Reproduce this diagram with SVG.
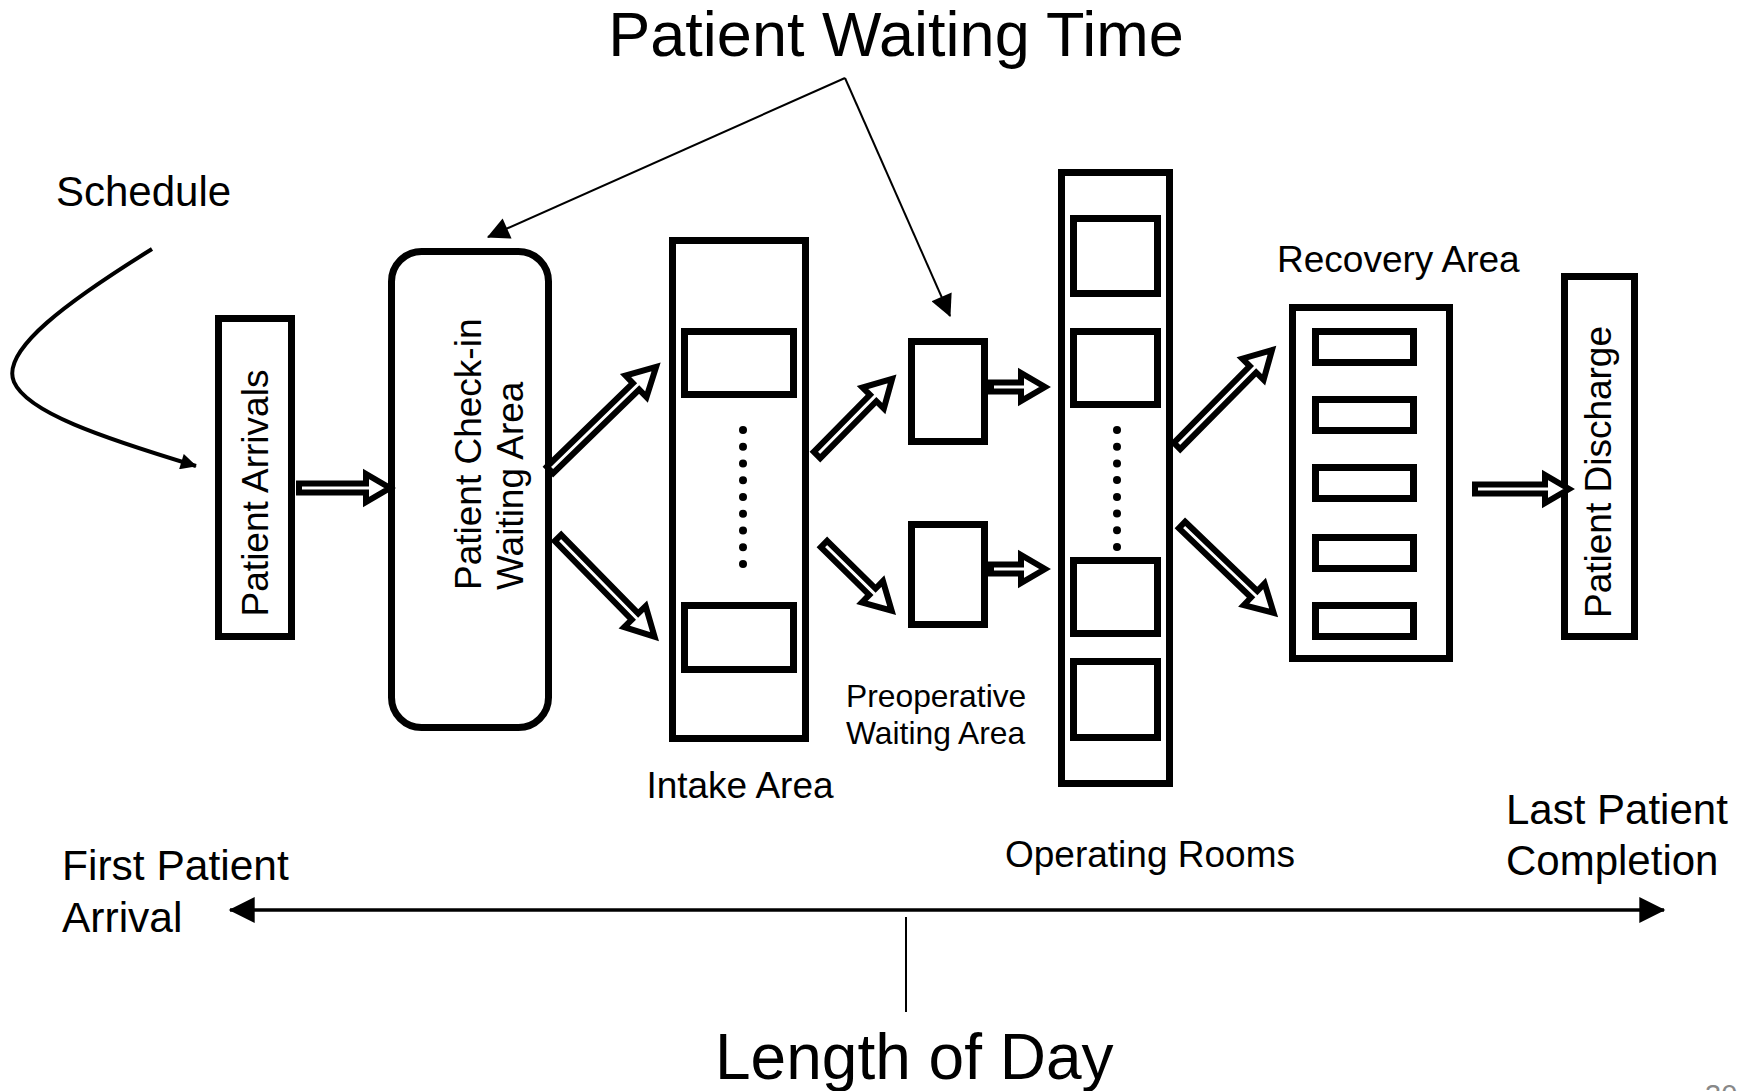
<svg xmlns="http://www.w3.org/2000/svg" width="1750" height="1091" viewBox="0 0 1750 1091">
<defs>
<style>
text{font-family:"Liberation Sans",Arial,sans-serif;fill:#000}
.box{fill:#fff;stroke:#000;stroke-width:7}
.inner{fill:none;stroke:#000;stroke-width:7}
.barrow{fill:#fff;stroke:#000;stroke-width:6;stroke-linejoin:miter;stroke-miterlimit:6}
.ptr{fill:none;stroke:#000;stroke-width:2}
.dot{fill:#000}
</style>
<marker id="ahBig" viewBox="0 0 10 10" refX="9.5" refY="5" markerWidth="24" markerHeight="22" markerUnits="userSpaceOnUse" orient="auto">
<path d="M0,0 L10,5 L0,10 z" fill="#000"/>
</marker>
<marker id="ahCurve" viewBox="0 0 10 10" refX="9.5" refY="5" markerWidth="20" markerHeight="16" markerUnits="userSpaceOnUse" orient="auto">
<path d="M0,0 L10,5 L0,10 z" fill="#000"/>
</marker>
<marker id="ahDay" viewBox="0 0 10 10" refX="9.5" refY="5" markerWidth="27" markerHeight="26" markerUnits="userSpaceOnUse" orient="auto-start-reverse">
<path d="M0,0 L10,5 L0,10 z" fill="#000"/>
</marker>
</defs>

<g id="title">
<text x="896" y="56" font-size="63" text-anchor="middle">Patient Waiting Time</text>
</g>

<g id="schedule">
<text x="56" y="206" font-size="42">Schedule</text>
</g>

<g id="patient-arrivals">
<rect class="box" x="218.5" y="318.5" width="73" height="318"/>
<text transform="translate(268,493) rotate(-90)" font-size="37" text-anchor="middle">Patient Arrivals</text>
</g>

<g id="checkin">
<rect class="box" x="391.5" y="251.5" width="157" height="476" rx="30" ry="30"/>
<text transform="translate(481,590) rotate(-90)" font-size="37">Patient Check-in</text>
<text transform="translate(523,590) rotate(-90)" font-size="37">Waiting Area</text>
</g>

<g id="intake">
<rect class="box" x="672.5" y="240.5" width="133" height="498"/>
<rect class="inner" x="684.5" y="331.5" width="109" height="63"/>
<rect class="inner" x="684.5" y="605.5" width="109" height="64"/>
<g class="dot">
<circle cx="743" cy="430" r="4"/><circle cx="743" cy="446.75" r="4"/><circle cx="743" cy="463.5" r="4"/>
<circle cx="743" cy="480.25" r="4"/><circle cx="743" cy="497" r="4"/><circle cx="743" cy="513.75" r="4"/>
<circle cx="743" cy="530.5" r="4"/><circle cx="743" cy="547.25" r="4"/><circle cx="743" cy="564" r="4"/>
</g>
<text x="740" y="798" font-size="37" text-anchor="middle">Intake Area</text>
</g>

<g id="preop">
<rect class="box" x="911.5" y="341.5" width="73" height="100"/>
<rect class="box" x="911.5" y="524.5" width="73" height="100"/>
<text x="846" y="707" font-size="31.8">Preoperative</text>
<text x="846" y="744" font-size="31.8">Waiting Area</text>
</g>

<g id="operating-rooms">
<rect class="box" x="1061.5" y="172.5" width="108" height="611"/>
<rect class="inner" x="1073.5" y="218.5" width="84" height="75"/>
<rect class="inner" x="1073.5" y="331.5" width="84" height="73"/>
<rect class="inner" x="1073.5" y="560.5" width="84" height="73"/>
<rect class="inner" x="1073.5" y="661.5" width="84" height="76"/>
<g class="dot">
<circle cx="1117" cy="430" r="4"/><circle cx="1117" cy="446.7" r="4"/><circle cx="1117" cy="463.4" r="4"/>
<circle cx="1117" cy="480.1" r="4"/><circle cx="1117" cy="496.9" r="4"/><circle cx="1117" cy="513.6" r="4"/>
<circle cx="1117" cy="530.3" r="4"/><circle cx="1117" cy="547" r="4"/>
</g>
<text x="1005" y="867" font-size="37">Operating Rooms</text>
</g>

<g id="recovery">
<rect class="box" x="1292.5" y="307.5" width="157" height="351"/>
<rect class="inner" x="1315.5" y="331.5" width="98" height="31"/>
<rect class="inner" x="1315.5" y="399.5" width="98" height="31"/>
<rect class="inner" x="1315.5" y="467.5" width="98" height="31"/>
<rect class="inner" x="1315.5" y="537.5" width="98" height="31"/>
<rect class="inner" x="1315.5" y="605.5" width="98" height="31"/>
<text x="1277" y="272" font-size="37">Recovery Area</text>
</g>

<g id="patient-discharge">
<rect class="box" x="1564.5" y="276.5" width="70" height="360"/>
<text transform="translate(1611,472) rotate(-90)" font-size="37" text-anchor="middle">Patient Discharge</text>
</g>

<g id="timeline-labels">
<text x="62" y="880" font-size="42.5">First Patient</text>
<text x="62" y="932" font-size="42.5">Arrival</text>
<text x="1506" y="824" font-size="42">Last Patient</text>
<text x="1506" y="875" font-size="42">Completion</text>
<text x="715" y="1079" font-size="64">Length of Day</text>
<text x="1705" y="1105" font-size="29" style="fill:#888">30</text>
</g>

<g id="connectors">
<path class="barrow" transform="translate(299,488)" d="M0,-4.5 H67 V-14 L91,0 L67,14 V4.5 H0 Z"/>
<path class="barrow" transform="translate(550,470) rotate(-44.2)" d="M0,-4.5 H120 V-15 L148,0 L120,15 V4.5 H0 Z"/>
<path class="barrow" transform="translate(558,538) rotate(45.6)" d="M0,-4.5 H110 V-15 L138,0 L110,15 V4.5 H0 Z"/>
<path class="barrow" transform="translate(817,455) rotate(-45.4)" d="M0,-4.5 H80 V-15 L107,0 L80,15 V4.5 H0 Z"/>
<path class="barrow" transform="translate(824,544) rotate(44.6)" d="M0,-4.5 H68 V-15 L95,0 L68,15 V4.5 H0 Z"/>
<path class="barrow" transform="translate(991,387)" d="M0,-4.5 H30 V-14 L54,0 L30,14 V4.5 H0 Z"/>
<path class="barrow" transform="translate(991,569)" d="M0,-4.5 H30 V-14 L54,0 L30,14 V4.5 H0 Z"/>
<path class="barrow" transform="translate(1177,446) rotate(-45.3)" d="M0,-4.5 H108 V-15 L135,0 L108,15 V4.5 H0 Z"/>
<path class="barrow" transform="translate(1182,525) rotate(43.8)" d="M0,-4.5 H100 V-15 L127,0 L100,15 V4.5 H0 Z"/>
<path class="barrow" transform="translate(1475,489)" d="M0,-4.5 H70 V-14 L94,0 L70,14 V4.5 H0 Z"/>

<line class="ptr" x1="845" y1="78" x2="488" y2="237" marker-end="url(#ahBig)"/>
<line class="ptr" x1="845" y1="78" x2="950" y2="316" marker-end="url(#ahBig)"/>

<path d="M152,249 C70,300 0,350 14,382 C27,412 100,437 196,466" fill="none" stroke="#000" stroke-width="4" marker-end="url(#ahCurve)"/>

<line x1="230" y1="910" x2="1664" y2="910" stroke="#000" stroke-width="3.5" marker-start="url(#ahDay)" marker-end="url(#ahDay)"/>
<line x1="906" y1="917" x2="906" y2="1012" stroke="#000" stroke-width="2"/>
</g>
</svg>
